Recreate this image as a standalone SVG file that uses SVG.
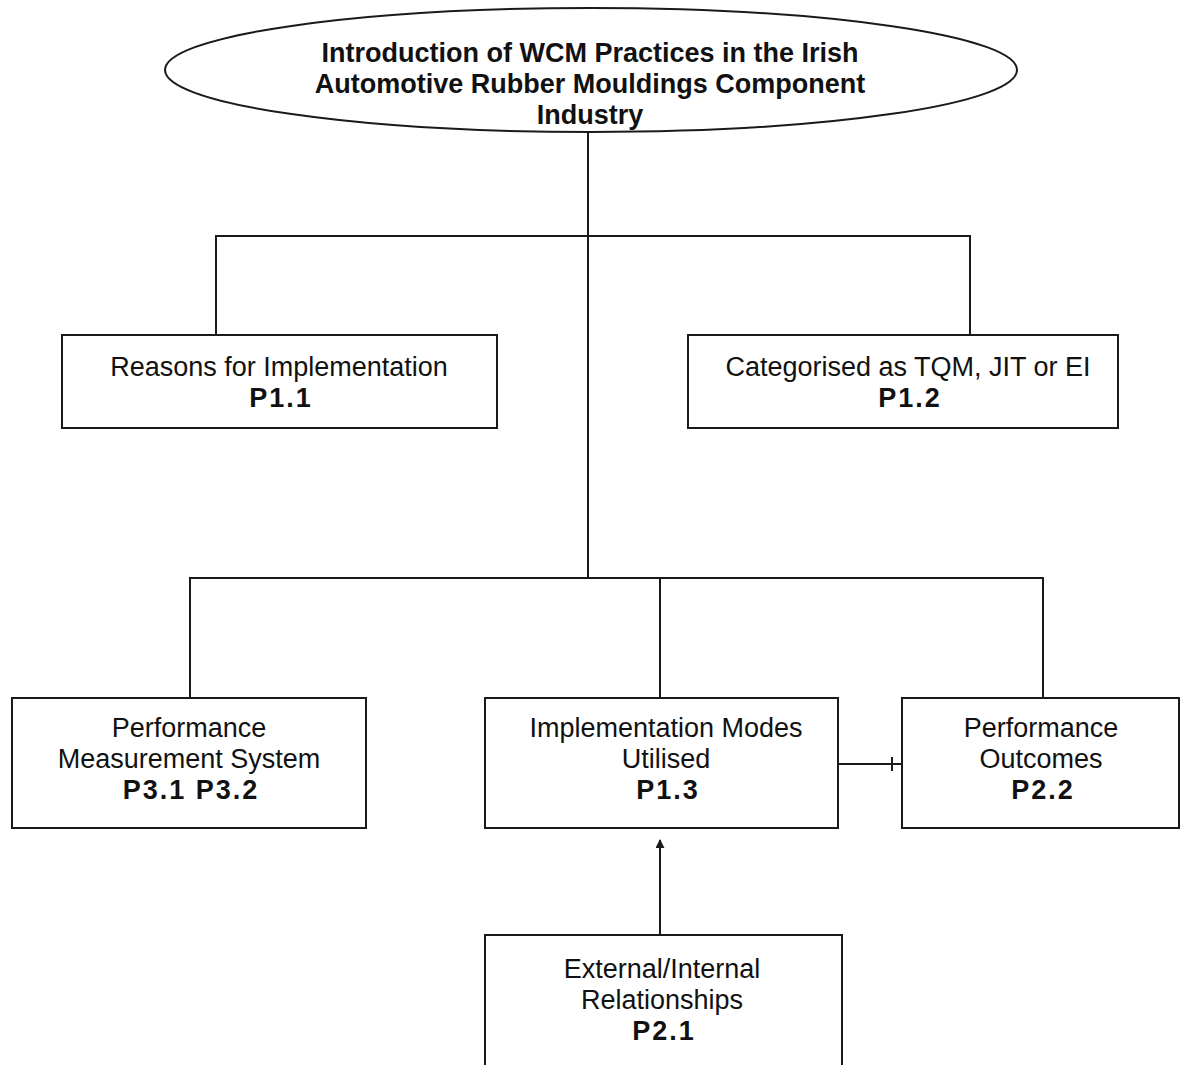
<svg xmlns="http://www.w3.org/2000/svg" width="1182" height="1065" viewBox="0 0 1182 1065">
<style>
.bx{fill:#fff;stroke:#1a1a1a;stroke-width:2}
.ln{fill:none;stroke:#1a1a1a;stroke-width:2}
.t{font-family:"Liberation Sans",Arial,sans-serif;font-size:27px;fill:#111;text-anchor:middle}
.b{font-weight:bold;letter-spacing:2px}
.h{font-weight:bold}
</style>
<defs>
<marker id="ah" viewBox="0 0 10 10" refX="9" refY="5" markerWidth="9" markerHeight="9" orient="auto" markerUnits="userSpaceOnUse">
<path d="M0,0 L10,5 L0,10 z" fill="#1a1a1a"/>
</marker>
</defs>
<rect width="1182" height="1065" fill="#fff"/>
<g id="connectors">
<path class="ln" d="M588,133 V578"/>
<path class="ln" d="M216,335 V236 H970 V335"/>
<path class="ln" d="M190,698 V578 H1043 V698"/>
<path class="ln" d="M660,578 V698"/>
<path class="ln" d="M838,764 H902"/>
<path class="ln" d="M892,757 V771"/>
<path class="ln" d="M660,935 V840" marker-end="url(#ah)"/>
</g>
<g id="root">
<ellipse cx="591" cy="70" rx="426" ry="62" fill="#fff" stroke="#1a1a1a" stroke-width="2"/>
<text class="t h" x="590" y="62">Introduction of WCM Practices in the Irish</text>
<text class="t h" x="590" y="93">Automotive Rubber Mouldings Component</text>
<text class="t h" x="590" y="124">Industry</text>
</g>
<g id="n-reasons">
<rect class="bx" x="62" y="335" width="435" height="93"/>
<text class="t" x="279" y="376">Reasons for Implementation</text>
<text class="t b" x="281" y="407">P1.1</text>
</g>
<g id="n-categorised">
<rect class="bx" x="688" y="335" width="430" height="93"/>
<text class="t" x="908" y="376">Categorised as TQM, JIT or EI</text>
<text class="t b" x="910" y="407">P1.2</text>
</g>
<g id="n-pms">
<rect class="bx" x="12" y="698" width="354" height="130"/>
<text class="t" x="189" y="737">Performance</text>
<text class="t" x="189" y="768">Measurement System</text>
<text class="t b" x="191" y="799">P3.1 P3.2</text>
</g>
<g id="n-modes">
<rect class="bx" x="485" y="698" width="353" height="130"/>
<text class="t" x="666" y="737">Implementation Modes</text>
<text class="t" x="666" y="768">Utilised</text>
<text class="t b" x="668" y="799">P1.3</text>
</g>
<g id="n-outcomes">
<rect class="bx" x="902" y="698" width="277" height="130"/>
<text class="t" x="1041" y="737">Performance</text>
<text class="t" x="1041" y="768">Outcomes</text>
<text class="t b" x="1043" y="799">P2.2</text>
</g>
<g id="n-relationships">
<path class="bx" d="M485,1066 V935 H842 V1066"/>
<text class="t" x="662" y="978">External/Internal</text>
<text class="t" x="662" y="1009">Relationships</text>
<text class="t b" x="664" y="1040">P2.1</text>
</g>
</svg>
